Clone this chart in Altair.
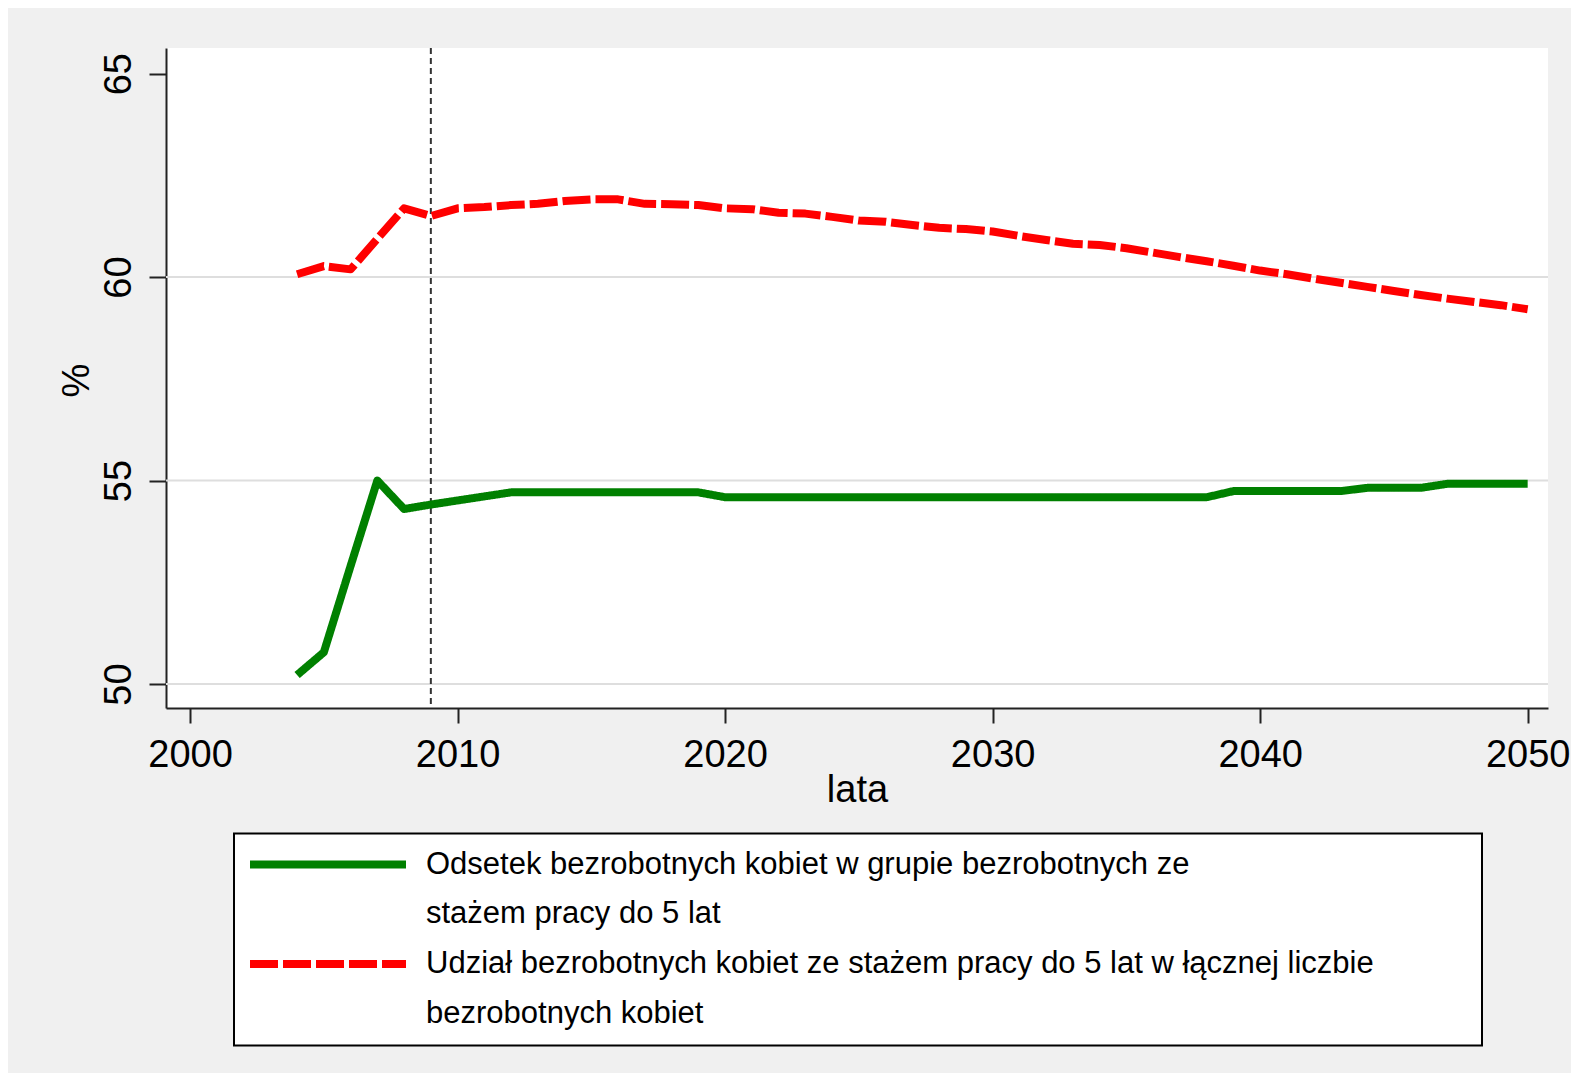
import altair as alt
import pandas as pd

# ---- data ----
years = list(range(2004, 2051))

# legend text, one entry per printed line (second line of each label has no symbol)
legend_lines = [
    "Odsetek bezrobotnych kobiet w grupie bezrobotnych ze",
    "stażem pracy do 5 lat",
    "Udział bezrobotnych kobiet ze stażem pracy do 5 lat w łącznej liczbie",
    "bezrobotnych kobiet",
]
series_names = [legend_lines[0], legend_lines[2]]

green_values = [
    50.22, 50.78, 52.90, 55.00, 54.30, 54.41, 54.51, 54.61,          # 2004-2011
    54.71, 54.71, 54.71, 54.71, 54.71, 54.71, 54.71, 54.71,          # 2012-2019
    54.59, 54.59, 54.59, 54.59, 54.59, 54.59, 54.59, 54.59, 54.59,   # 2020-2028
    54.59, 54.59, 54.59, 54.59, 54.59, 54.59, 54.59, 54.59, 54.59,   # 2029-2037
    54.59,                                                          # 2038
    54.74, 54.74, 54.74, 54.74, 54.74,                              # 2039-2043
    54.82, 54.82, 54.82,                                            # 2044-2046
    54.92, 54.92, 54.92, 54.92,                                     # 2047-2050
]

red_values = [
    60.07, 60.27, 60.19, 60.94, 61.69, 61.50, 61.69, 61.72, 61.77, 61.80,  # 2004-2013
    61.87, 61.91, 61.91, 61.80, 61.79, 61.77, 61.69, 61.67, 61.58, 61.56,  # 2014-2023
    61.48, 61.39, 61.36, 61.28, 61.21, 61.18, 61.12, 61.01, 60.91, 60.82,  # 2024-2033
    60.79, 60.71, 60.60, 60.49, 60.39, 60.28, 60.16, 60.07, 59.96, 59.86,  # 2034-2043
    59.76, 59.66, 59.56, 59.47, 59.39, 59.31, 59.21,                      # 2044-2050
]

x_ticks = [2000, 2010, 2020, 2030, 2040, 2050]
y_ticks = [50, 55, 60, 65]
grid_values = [50, 55, 60]
marker_year = [2009]

legend_colors = ["#008000", "transparent", "#ff0000", "transparent"]
legend_dashes = [[1, 0], [1, 0], [28, 5], [1, 0]]

# ---- tables ----
df = pd.DataFrame({
    "year": years * 2,
    "value": green_values + red_values,
    "series": [series_names[0]] * len(years) + [series_names[1]] * len(years),
})
grid_df = pd.DataFrame({"value": grid_values})
marker_df = pd.DataFrame({"year": marker_year})

FONT = "Liberation Sans"

x_scale = alt.Scale(domain=[1999.1, 2050.76], nice=False, zero=False)
y_scale = alt.Scale(domain=[49.41, 65.63], nice=False, zero=False)

legend = alt.Legend(
    # a tiny transparent title on the right only widens the box like the reference
    title=".",
    titleOrient="right",
    titleColor="transparent",
    titleFontSize=2,
    titlePadding=95,
    orient="none",
    legendX=68,
    legendY=785.5,
    direction="vertical",
    symbolType="stroke",
    symbolSize=24336,
    symbolStrokeWidth=8,
    clipHeight=38,
    labelFontSize=31,
    labelFont=FONT,
    labelColor="black",
    labelOffset=16,
    labelLimit=3000,
    padding=12,
    rowPadding=11.7,
    fillColor="white",
    strokeColor="black",
)

x_axis = alt.Axis(
    values=x_ticks, format="d", title="lata",
    titleFontSize=38, titleFontWeight="normal", titleColor="black", titleFont=FONT,
    titleY=93, titleBaseline="alphabetic",
    labelFontSize=38, labelColor="black", labelFont=FONT,
    labelBaseline="alphabetic", labelPadding=43, labelFlush=False, labelOverlap=False,
    tickSize=15, tickWidth=2, tickColor="#222222",
    domainColor="#222222", domainWidth=2, grid=False,
)

y_axis = alt.Axis(
    values=y_ticks, format="d", title="%",
    titleFontSize=38, titleFontWeight="normal", titleColor="black", titleFont=FONT,
    titleAngle=270, titleX=-78, titleY=332, titleAlign="center", titleBaseline="alphabetic",
    labelFontSize=38, labelColor="black", labelFont=FONT,
    labelAngle=270, labelAlign="center", labelBaseline="alphabetic", labelPadding=19,
    tickSize=17, tickWidth=2, tickColor="#222222",
    domainColor="#222222", domainWidth=2, grid=False,
)

grid = alt.Chart(grid_df).mark_rule(color="#dedede", strokeWidth=2).encode(
    y=alt.Y("value:Q", scale=y_scale, axis=y_axis)
)

marker = alt.Chart(marker_df).mark_rule(
    color="#333333", strokeWidth=2, strokeDash=[6, 4]
).encode(
    x=alt.X("year:Q", scale=x_scale, axis=x_axis)
)

lines = alt.Chart(df).mark_line(
    strokeWidth=8, strokeCap="butt", strokeJoin="round"
).encode(
    x=alt.X("year:Q", scale=x_scale, axis=x_axis),
    y=alt.Y("value:Q", scale=y_scale, axis=y_axis),
    color=alt.Color("series:N", scale=alt.Scale(domain=legend_lines, range=legend_colors),
                    sort=legend_lines, legend=legend),
    strokeDash=alt.StrokeDash("series:N", scale=alt.Scale(domain=legend_lines, range=legend_dashes),
                              sort=legend_lines, legend=legend),
    order=alt.Order("year:Q"),
)

chart = alt.layer(grid, marker, lines).properties(
    width=1382,
    height=660,
    autosize=alt.AutoSizeParams(type="none"),
    padding={"left": 158, "top": 40, "right": 23, "bottom": 365},
    background="#f0f0f0",
).configure(
    font=FONT
).configure_view(
    fill="white", strokeWidth=0
).configure_legend(
    strokeWidth=2
)

chart.save("out.html", embed_options={"renderer": "svg", "actions": False})
